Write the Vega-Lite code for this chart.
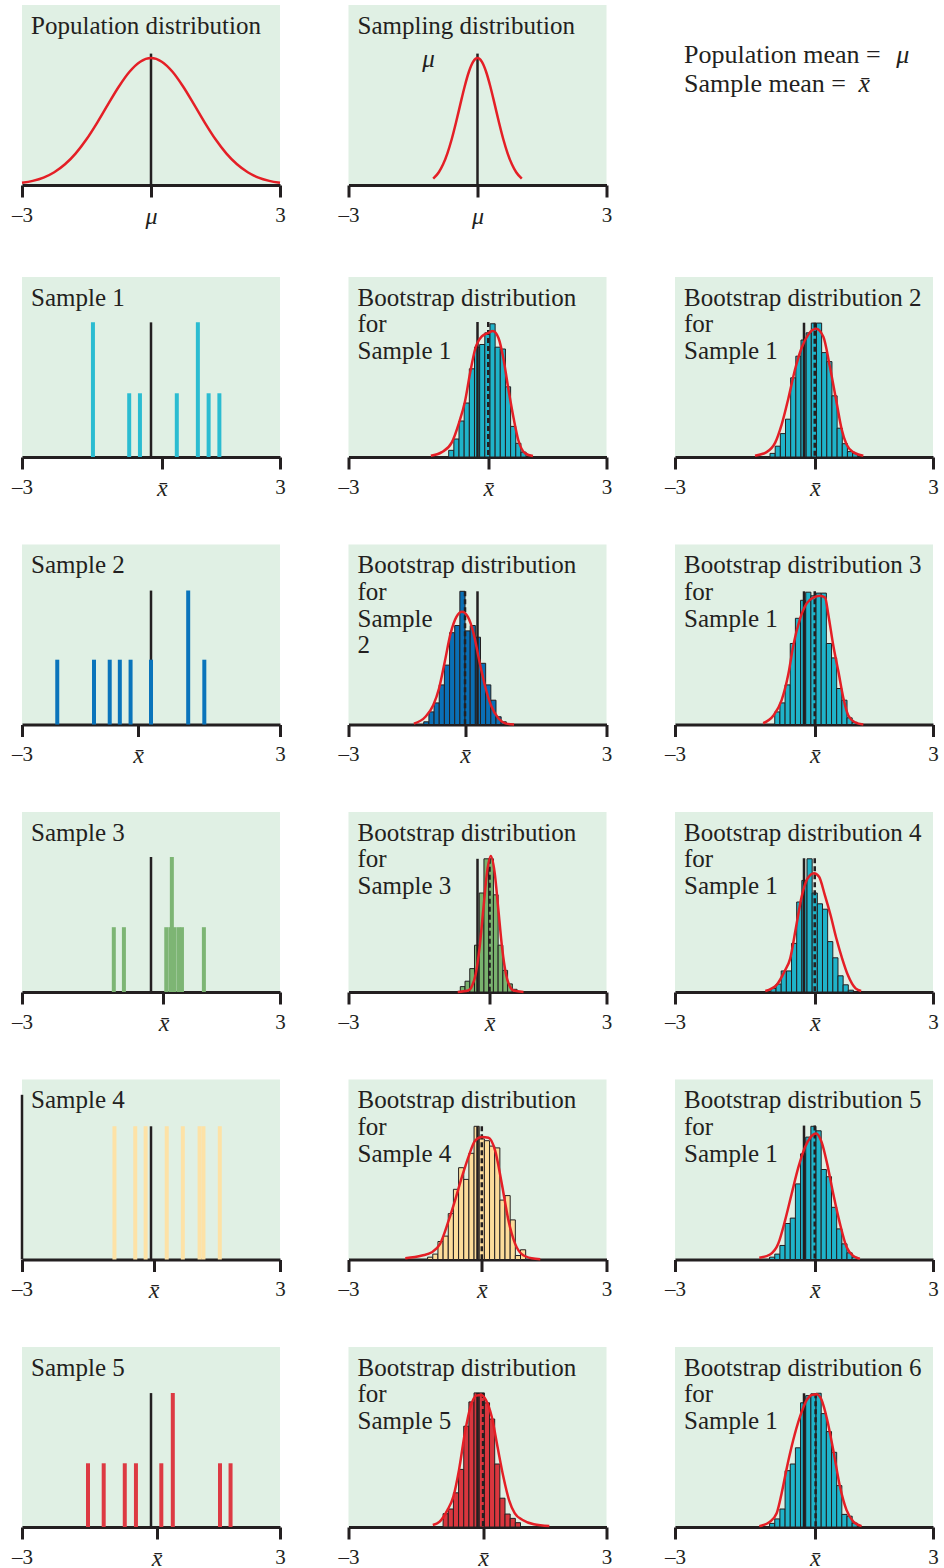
{
"$schema":"https://vega.github.io/schema/vega-lite/v6.json",
"background":"white",
"padding":{"left":11,"top":5,"right":0,"bottom":0},
"config":{
 "font":"Liberation Serif",
 "view":{"stroke":null},
 "text":{"font":"Liberation Serif","color":"#231f20","fontSize":25},
 "axisX":{"domainColor":"#231f20","domainWidth":3,"tickColor":"#231f20","tickWidth":3,"tickSize":12,"labelFont":"Liberation Serif","labelFontSize":21,"labelColor":"#231f20","labelPadding":7,"grid":false,"labelFlush":false,"labelOverlap":false,"labelBound":false,"zindex":1}
},
"spacing":49,
"vconcat":[
{"hconcat":[
 {"width":258,"height":180,"view":{"fill":"#e0f0e4","stroke":null},
  "encoding":{"x":{"field":"x","type":"quantitative","title":null,"scale":{"domain":[-3,3],"nice":false,"zero":false},"axis":{"values":[-3,0,3],"labelExpr":"datum.value == -3 ? '\u20133' : datum.value == 3 ? '3' : '\u03bc'","labelFontStyle":{"condition":{"test":"abs(datum.value) < 2.9","value":"italic"},"value":"normal"},"labelFontSize":{"condition":{"test":"abs(datum.value) < 2.9","value":24},"value":21}}},"y":{"field":"h","type":"quantitative","title":null,"stack":null,"scale":{"domain":[0,1]},"axis":null}},
  "layer":[
   {"data":{"values":[{"x":-2.79,"h":0.839,"t":"Population distribution"}]},"mark":{"type":"text","align":"left","baseline":"alphabetic"},"encoding":{"text":{"field":"t"}}},
   {"data":{"values":[{"x":0,"h":0.73}]},"mark":{"type":"rule","color":"#231f20","strokeWidth":2.5},"encoding":{"y2":{"datum":0}}},
   {"data":{"values":[{"x":-3,"h":0.012},{"x":-2.75,"h":0.023},{"x":-2.5,"h":0.041},{"x":-2.25,"h":0.071},{"x":-2,"h":0.115},{"x":-1.75,"h":0.176},{"x":-1.5,"h":0.254},{"x":-1.25,"h":0.347},{"x":-1,"h":0.448},{"x":-0.75,"h":0.546},{"x":-0.5,"h":0.629},{"x":-0.25,"h":0.685},{"x":0,"h":0.705},{"x":0.25,"h":0.685},{"x":0.5,"h":0.629},{"x":0.75,"h":0.546},{"x":1,"h":0.448},{"x":1.25,"h":0.347},{"x":1.5,"h":0.254},{"x":1.75,"h":0.176},{"x":2,"h":0.115},{"x":2.25,"h":0.071},{"x":2.5,"h":0.041},{"x":2.75,"h":0.023},{"x":3,"h":0.012}]},"mark":{"type":"line","color":"#e41f26","strokeWidth":2.5,"interpolate":"monotone"},"encoding":{}}
  ]},
 {"width":258,"height":180,"view":{"fill":"#e0f0e4","stroke":null},
  "encoding":{"x":{"field":"x","type":"quantitative","title":null,"scale":{"domain":[-3,3],"nice":false,"zero":false},"axis":{"values":[-3,0,3],"labelExpr":"datum.value == -3 ? '\u20133' : datum.value == 3 ? '3' : '\u03bc'","labelFontStyle":{"condition":{"test":"abs(datum.value) < 2.9","value":"italic"},"value":"normal"},"labelFontSize":{"condition":{"test":"abs(datum.value) < 2.9","value":24},"value":21}}},"y":{"field":"h","type":"quantitative","title":null,"stack":null,"scale":{"domain":[0,1]},"axis":null}},
  "layer":[
   {"data":{"values":[{"x":-2.79,"h":0.839,"t":"Sampling distribution"}]},"mark":{"type":"text","align":"left","baseline":"alphabetic"},"encoding":{"text":{"field":"t"}}},
   {"data":{"values":[{"x":0,"h":0.73}]},"mark":{"type":"rule","color":"#231f20","strokeWidth":2.5},"encoding":{"y2":{"datum":0}}},
   {"data":{"values":[{"x":-1.03,"h":0.035},{"x":-0.9,"h":0.071},{"x":-0.8,"h":0.115},{"x":-0.7,"h":0.176},{"x":-0.6,"h":0.254},{"x":-0.5,"h":0.347},{"x":-0.4,"h":0.448},{"x":-0.3,"h":0.546},{"x":-0.2,"h":0.629},{"x":-0.1,"h":0.685},{"x":0,"h":0.705},{"x":0.1,"h":0.685},{"x":0.2,"h":0.629},{"x":0.3,"h":0.546},{"x":0.4,"h":0.448},{"x":0.5,"h":0.347},{"x":0.6,"h":0.254},{"x":0.7,"h":0.176},{"x":0.8,"h":0.115},{"x":0.9,"h":0.071},{"x":1.03,"h":0.035}]},"mark":{"type":"line","color":"#e41f26","strokeWidth":2.5,"interpolate":"monotone"},"encoding":{}},
   {"data":{"values":[{"x":-1.14,"h":0.655,"t":"\u03bc"}]},"mark":{"type":"text","fontSize":25,"fontStyle":"italic","align":"center","baseline":"alphabetic"},"encoding":{"text":{"field":"t"}}}
  ]},
 {"width":258,"height":180,"view":{"stroke":null},
  "encoding":{"x":{"field":"x","type":"quantitative","title":null,"scale":{"domain":[-3,3],"nice":false,"zero":false},"axis":null},"y":{"field":"h","type":"quantitative","title":null,"scale":{"domain":[0,1]},"axis":null},"text":{"field":"t"}},
  "layer":[
   {"data":{"values":[{"x":-2.79,"h":0.678,"t":"Population mean ="},{"x":-2.79,"h":0.517,"t":"Sample mean ="}]},"mark":{"type":"text","fontSize":26,"align":"left","baseline":"alphabetic"}},
   {"data":{"values":[{"x":2.3,"h":0.678,"t":"\u03bc"},{"x":1.4,"h":0.517,"t":"x\u0304"}]},"mark":{"type":"text","fontSize":26,"fontStyle":"italic","align":"center","baseline":"alphabetic"}}
  ]}
],"spacing":68.5,"bounds":"flush"},
{"vconcat":[
{"hconcat":[
 {"width":258,"height":180,"view":{"fill":"#e0f0e4","stroke":null},
  "encoding":{"x":{"field":"x","type":"quantitative","title":null,"scale":{"domain":[-3,3],"nice":false,"zero":false},"axis":{"values":[-3,0.25,3],"labelExpr":"datum.value == -3 ? '\u20133' : datum.value == 3 ? '3' : 'x\u0304'","labelFontStyle":{"condition":{"test":"abs(datum.value) < 2.9","value":"italic"},"value":"normal"},"labelFontSize":{"condition":{"test":"abs(datum.value) < 2.9","value":24},"value":21}}},"y":{"field":"h","type":"quantitative","title":null,"stack":null,"scale":{"domain":[0,1]},"axis":null}},
  "layer":[
   {"data":{"values":[{"x":-2.79,"h":0.839,"t":"Sample 1"}]},"mark":{"type":"text","align":"left","baseline":"alphabetic"},"encoding":{"text":{"field":"t"}}},
   {"data":{"values":[{"x":0,"h":0.748}]},"mark":{"type":"rule","color":"#231f20","strokeWidth":2.5},"encoding":{"y2":{"datum":0}}},
   {"data":{"values":[{"x":-1.35,"h":0.748},{"x":-0.507,"h":0.354},{"x":-0.257,"h":0.354},{"x":0.6,"h":0.354},{"x":1.09,"h":0.748},{"x":1.34,"h":0.354},{"x":1.59,"h":0.354}]},"mark":{"type":"rule","color":"#2bbcd1","strokeWidth":4},"encoding":{"y2":{"datum":0}}}
  ]},
 {"width":258,"height":180,"view":{"fill":"#e0f0e4","stroke":null},
  "encoding":{"x":{"field":"x","type":"quantitative","title":null,"scale":{"domain":[-3,3],"nice":false,"zero":false},"axis":{"values":[-3,0.25,3],"labelExpr":"datum.value == -3 ? '\u20133' : datum.value == 3 ? '3' : 'x\u0304'","labelFontStyle":{"condition":{"test":"abs(datum.value) < 2.9","value":"italic"},"value":"normal"},"labelFontSize":{"condition":{"test":"abs(datum.value) < 2.9","value":24},"value":21}}},"y":{"field":"h","type":"quantitative","title":null,"stack":null,"scale":{"domain":[0,1]},"axis":null}},
  "layer":[
   {"data":{"values":[{"x":-2.79,"h":0.839,"t":"Bootstrap distribution"},{"x":-2.79,"h":0.692,"t":"for"},{"x":-2.79,"h":0.544,"t":"Sample 1"}]},"mark":{"type":"text","align":"left","baseline":"alphabetic"},"encoding":{"text":{"field":"t"}}},
   {"data":{"values":[{"x":-0.67,"x2f":-0.55,"h":0.037},{"x":-0.55,"x2f":-0.43,"h":0.1},{"x":-0.43,"x2f":-0.31,"h":0.2},{"x":-0.31,"x2f":-0.19,"h":0.3},{"x":-0.19,"x2f":-0.07,"h":0.49},{"x":-0.07,"x2f":0.05,"h":0.61},{"x":0.05,"x2f":0.17,"h":0.625},{"x":0.17,"x2f":0.29,"h":0.69},{"x":0.29,"x2f":0.41,"h":0.74},{"x":0.41,"x2f":0.53,"h":0.61},{"x":0.53,"x2f":0.65,"h":0.6},{"x":0.65,"x2f":0.77,"h":0.39},{"x":0.77,"x2f":0.89,"h":0.17},{"x":0.89,"x2f":1.01,"h":0.076},{"x":1.01,"x2f":1.13,"h":0.027}]},"mark":{"type":"bar","fill":"#1fb3c9","stroke":"#231f20","strokeWidth":1},"encoding":{"x2":{"field":"x2f"},"y2":{"datum":0}}},
   {"data":{"values":[{"x":0,"h":0.75}]},"mark":{"type":"rule","color":"#231f20","strokeWidth":2.5},"encoding":{"y2":{"datum":0}}},
   {"data":{"values":[{"x":0.25,"h":0.75}]},"mark":{"type":"rule","color":"#231f20","strokeWidth":2.5,"strokeDash":[5,3]},"encoding":{"y2":{"datum":0}}},
   {"data":{"values":[{"x":-1.085,"h":0.007},{"x":-0.83,"h":0.027},{"x":-0.6,"h":0.08},{"x":-0.43,"h":0.19},{"x":-0.29,"h":0.31},{"x":-0.17,"h":0.47},{"x":-0.054,"h":0.6},{"x":0.1,"h":0.67},{"x":0.256,"h":0.69},{"x":0.357,"h":0.7},{"x":0.49,"h":0.66},{"x":0.6,"h":0.55},{"x":0.72,"h":0.375},{"x":0.84,"h":0.215},{"x":0.95,"h":0.093},{"x":1.11,"h":0.02},{"x":1.29,"h":0.005}]},"mark":{"type":"line","color":"#e41f26","strokeWidth":2.5,"interpolate":"monotone"},"encoding":{}}
  ]},
 {"width":258,"height":180,"view":{"fill":"#e0f0e4","stroke":null},
  "encoding":{"x":{"field":"x","type":"quantitative","title":null,"scale":{"domain":[-3,3],"nice":false,"zero":false},"axis":{"values":[-3,0.25,3],"labelExpr":"datum.value == -3 ? '\u20133' : datum.value == 3 ? '3' : 'x\u0304'","labelFontStyle":{"condition":{"test":"abs(datum.value) < 2.9","value":"italic"},"value":"normal"},"labelFontSize":{"condition":{"test":"abs(datum.value) < 2.9","value":24},"value":21}}},"y":{"field":"h","type":"quantitative","title":null,"stack":null,"scale":{"domain":[0,1]},"axis":null}},
  "layer":[
   {"data":{"values":[{"x":-2.79,"h":0.839,"t":"Bootstrap distribution 2"},{"x":-2.79,"h":0.692,"t":"for"},{"x":-2.79,"h":0.544,"t":"Sample 1"}]},"mark":{"type":"text","align":"left","baseline":"alphabetic"},"encoding":{"text":{"field":"t"}}},
   {"data":{"values":[{"x":-0.79,"x2f":-0.67,"h":0.02},{"x":-0.67,"x2f":-0.55,"h":0.06},{"x":-0.55,"x2f":-0.43,"h":0.13},{"x":-0.43,"x2f":-0.31,"h":0.21},{"x":-0.31,"x2f":-0.19,"h":0.44},{"x":-0.19,"x2f":-0.07,"h":0.56},{"x":-0.07,"x2f":0.05,"h":0.65},{"x":0.05,"x2f":0.17,"h":0.69},{"x":0.17,"x2f":0.29,"h":0.744},{"x":0.29,"x2f":0.41,"h":0.744},{"x":0.41,"x2f":0.53,"h":0.58},{"x":0.53,"x2f":0.65,"h":0.53},{"x":0.65,"x2f":0.77,"h":0.34},{"x":0.77,"x2f":0.89,"h":0.16},{"x":0.89,"x2f":1.01,"h":0.074},{"x":1.01,"x2f":1.13,"h":0.03},{"x":1.13,"x2f":1.25,"h":0.02}]},"mark":{"type":"bar","fill":"#1fb3c9","stroke":"#231f20","strokeWidth":1},"encoding":{"x2":{"field":"x2f"},"y2":{"datum":0}}},
   {"data":{"values":[{"x":0,"h":0.746}]},"mark":{"type":"rule","color":"#231f20","strokeWidth":2.5},"encoding":{"y2":{"datum":0}}},
   {"data":{"values":[{"x":0.25,"h":0.746}]},"mark":{"type":"rule","color":"#231f20","strokeWidth":2.5,"strokeDash":[5,3]},"encoding":{"y2":{"datum":0}}},
   {"data":{"values":[{"x":-1.14,"h":0.007},{"x":-0.87,"h":0.027},{"x":-0.67,"h":0.08},{"x":-0.52,"h":0.18},{"x":-0.364,"h":0.325},{"x":-0.21,"h":0.485},{"x":-0.054,"h":0.607},{"x":0.1,"h":0.68},{"x":0.28,"h":0.712},{"x":0.45,"h":0.668},{"x":0.605,"h":0.497},{"x":0.76,"h":0.3},{"x":0.876,"h":0.154},{"x":0.99,"h":0.069},{"x":1.147,"h":0.027},{"x":1.38,"h":0.007}]},"mark":{"type":"line","color":"#e41f26","strokeWidth":2.5,"interpolate":"monotone"},"encoding":{}}
  ]}
],"spacing":68.5,"bounds":"flush"},
{"hconcat":[
 {"width":258,"height":180,"view":{"fill":"#e0f0e4","stroke":null},
  "encoding":{"x":{"field":"x","type":"quantitative","title":null,"scale":{"domain":[-3,3],"nice":false,"zero":false},"axis":{"values":[-3,-0.3,3],"labelExpr":"datum.value == -3 ? '\u20133' : datum.value == 3 ? '3' : 'x\u0304'","labelFontStyle":{"condition":{"test":"abs(datum.value) < 2.9","value":"italic"},"value":"normal"},"labelFontSize":{"condition":{"test":"abs(datum.value) < 2.9","value":24},"value":21}}},"y":{"field":"h","type":"quantitative","title":null,"stack":null,"scale":{"domain":[0,1]},"axis":null}},
  "layer":[
   {"data":{"values":[{"x":-2.79,"h":0.839,"t":"Sample 2"}]},"mark":{"type":"text","align":"left","baseline":"alphabetic"},"encoding":{"text":{"field":"t"}}},
   {"data":{"values":[{"x":0,"h":0.744}]},"mark":{"type":"rule","color":"#231f20","strokeWidth":2.5},"encoding":{"y2":{"datum":0}}},
   {"data":{"values":[{"x":-2.18,"h":0.36},{"x":-1.325,"h":0.36},{"x":-0.96,"h":0.36},{"x":-0.725,"h":0.36},{"x":-0.475,"h":0.36},{"x":0,"h":0.36},{"x":0.865,"h":0.744},{"x":1.24,"h":0.36}]},"mark":{"type":"rule","color":"#0a74bb","strokeWidth":4},"encoding":{"y2":{"datum":0}}}
  ]},
 {"width":258,"height":180,"view":{"fill":"#e0f0e4","stroke":null},
  "encoding":{"x":{"field":"x","type":"quantitative","title":null,"scale":{"domain":[-3,3],"nice":false,"zero":false},"axis":{"values":[-3,-0.29,3],"labelExpr":"datum.value == -3 ? '\u20133' : datum.value == 3 ? '3' : 'x\u0304'","labelFontStyle":{"condition":{"test":"abs(datum.value) < 2.9","value":"italic"},"value":"normal"},"labelFontSize":{"condition":{"test":"abs(datum.value) < 2.9","value":24},"value":21}}},"y":{"field":"h","type":"quantitative","title":null,"stack":null,"scale":{"domain":[0,1]},"axis":null}},
  "layer":[
   {"data":{"values":[{"x":-2.79,"h":0.839,"t":"Bootstrap distribution"},{"x":-2.79,"h":0.692,"t":"for"},{"x":-2.79,"h":0.544,"t":"Sample"},{"x":-2.79,"h":0.397,"t":"2"}]},"mark":{"type":"text","align":"left","baseline":"alphabetic"},"encoding":{"text":{"field":"t"}}},
   {"data":{"values":[{"x":-1.25,"x2f":-1.13,"h":0.015},{"x":-1.13,"x2f":-1.01,"h":0.07},{"x":-1.01,"x2f":-0.89,"h":0.12},{"x":-0.89,"x2f":-0.77,"h":0.22},{"x":-0.77,"x2f":-0.65,"h":0.33},{"x":-0.65,"x2f":-0.53,"h":0.51},{"x":-0.53,"x2f":-0.41,"h":0.55},{"x":-0.41,"x2f":-0.29,"h":0.74},{"x":-0.29,"x2f":-0.17,"h":0.52},{"x":-0.17,"x2f":-0.05,"h":0.55},{"x":-0.05,"x2f":0.07,"h":0.485},{"x":0.07,"x2f":0.19,"h":0.34},{"x":0.19,"x2f":0.31,"h":0.22},{"x":0.31,"x2f":0.43,"h":0.135},{"x":0.43,"x2f":0.55,"h":0.043},{"x":0.55,"x2f":0.67,"h":0.015}]},"mark":{"type":"bar","fill":"#0a6fb5","stroke":"#231f20","strokeWidth":1},"encoding":{"x2":{"field":"x2f"},"y2":{"datum":0}}},
   {"data":{"values":[{"x":0,"h":0.74}]},"mark":{"type":"rule","color":"#231f20","strokeWidth":2.5},"encoding":{"y2":{"datum":0}}},
   {"data":{"values":[{"x":-0.29,"h":0.74}]},"mark":{"type":"rule","color":"#231f20","strokeWidth":2.5,"strokeDash":[5,3]},"encoding":{"y2":{"datum":0}}},
   {"data":{"values":[{"x":-1.48,"h":0.005},{"x":-1.21,"h":0.043},{"x":-1.03,"h":0.107},{"x":-0.895,"h":0.2},{"x":-0.76,"h":0.35},{"x":-0.627,"h":0.505},{"x":-0.49,"h":0.598},{"x":-0.36,"h":0.626},{"x":-0.224,"h":0.598},{"x":-0.09,"h":0.505},{"x":0.045,"h":0.35},{"x":0.18,"h":0.21},{"x":0.313,"h":0.107},{"x":0.49,"h":0.033},{"x":0.67,"h":0.005},{"x":0.85,"h":0.0}]},"mark":{"type":"line","color":"#e41f26","strokeWidth":2.5,"interpolate":"monotone"},"encoding":{}}
  ]},
 {"width":258,"height":180,"view":{"fill":"#e0f0e4","stroke":null},
  "encoding":{"x":{"field":"x","type":"quantitative","title":null,"scale":{"domain":[-3,3],"nice":false,"zero":false},"axis":{"values":[-3,0.25,3],"labelExpr":"datum.value == -3 ? '\u20133' : datum.value == 3 ? '3' : 'x\u0304'","labelFontStyle":{"condition":{"test":"abs(datum.value) < 2.9","value":"italic"},"value":"normal"},"labelFontSize":{"condition":{"test":"abs(datum.value) < 2.9","value":24},"value":21}}},"y":{"field":"h","type":"quantitative","title":null,"stack":null,"scale":{"domain":[0,1]},"axis":null}},
  "layer":[
   {"data":{"values":[{"x":-2.79,"h":0.839,"t":"Bootstrap distribution 3"},{"x":-2.79,"h":0.692,"t":"for"},{"x":-2.79,"h":0.544,"t":"Sample 1"}]},"mark":{"type":"text","align":"left","baseline":"alphabetic"},"encoding":{"text":{"field":"t"}}},
   {"data":{"values":[{"x":-0.68,"x2f":-0.56,"h":0.07},{"x":-0.56,"x2f":-0.44,"h":0.12},{"x":-0.44,"x2f":-0.32,"h":0.22},{"x":-0.32,"x2f":-0.2,"h":0.45},{"x":-0.2,"x2f":-0.08,"h":0.59},{"x":-0.08,"x2f":0.04,"h":0.69},{"x":0.04,"x2f":0.16,"h":0.735},{"x":0.16,"x2f":0.28,"h":0.715},{"x":0.28,"x2f":0.4,"h":0.73},{"x":0.4,"x2f":0.52,"h":0.73},{"x":0.52,"x2f":0.64,"h":0.45},{"x":0.64,"x2f":0.76,"h":0.37},{"x":0.76,"x2f":0.88,"h":0.2},{"x":0.88,"x2f":1.0,"h":0.135},{"x":1.0,"x2f":1.12,"h":0.037},{"x":1.12,"x2f":1.24,"h":0.012}]},"mark":{"type":"bar","fill":"#1fb3c9","stroke":"#231f20","strokeWidth":1},"encoding":{"x2":{"field":"x2f"},"y2":{"datum":0}}},
   {"data":{"values":[{"x":0,"h":0.74}]},"mark":{"type":"rule","color":"#231f20","strokeWidth":2.5},"encoding":{"y2":{"datum":0}}},
   {"data":{"values":[{"x":0.25,"h":0.74}]},"mark":{"type":"rule","color":"#231f20","strokeWidth":2.5,"strokeDash":[5,3]},"encoding":{"y2":{"datum":0}}},
   {"data":{"values":[{"x":-0.95,"h":0.007},{"x":-0.71,"h":0.05},{"x":-0.52,"h":0.135},{"x":-0.364,"h":0.28},{"x":-0.248,"h":0.44},{"x":-0.093,"h":0.587},{"x":0.062,"h":0.673},{"x":0.217,"h":0.705},{"x":0.37,"h":0.715},{"x":0.49,"h":0.705},{"x":0.566,"h":0.61},{"x":0.68,"h":0.44},{"x":0.8,"h":0.294},{"x":0.915,"h":0.147},{"x":1.03,"h":0.05},{"x":1.186,"h":0.012},{"x":1.38,"h":0.0}]},"mark":{"type":"line","color":"#e41f26","strokeWidth":2.5,"interpolate":"monotone"},"encoding":{}}
  ]}
],"spacing":68.5,"bounds":"flush"},
{"hconcat":[
 {"width":258,"height":180,"view":{"fill":"#e0f0e4","stroke":null},
  "encoding":{"x":{"field":"x","type":"quantitative","title":null,"scale":{"domain":[-3,3],"nice":false,"zero":false},"axis":{"values":[-3,0.29,3],"labelExpr":"datum.value == -3 ? '\u20133' : datum.value == 3 ? '3' : 'x\u0304'","labelFontStyle":{"condition":{"test":"abs(datum.value) < 2.9","value":"italic"},"value":"normal"},"labelFontSize":{"condition":{"test":"abs(datum.value) < 2.9","value":24},"value":21}}},"y":{"field":"h","type":"quantitative","title":null,"stack":null,"scale":{"domain":[0,1]},"axis":null}},
  "layer":[
   {"data":{"values":[{"x":-2.79,"h":0.839,"t":"Sample 3"}]},"mark":{"type":"text","align":"left","baseline":"alphabetic"},"encoding":{"text":{"field":"t"}}},
   {"data":{"values":[{"x":0,"h":0.75}]},"mark":{"type":"rule","color":"#231f20","strokeWidth":2.5},"encoding":{"y2":{"datum":0}}},
   {"data":{"values":[{"x":-0.865,"h":0.36},{"x":-0.63,"h":0.36},{"x":0.355,"h":0.36},{"x":0.45,"h":0.36},{"x":0.545,"h":0.36},{"x":0.64,"h":0.36},{"x":0.72,"h":0.36},{"x":0.485,"h":0.75},{"x":1.23,"h":0.36}]},"mark":{"type":"rule","color":"#7db574","strokeWidth":4},"encoding":{"y2":{"datum":0}}}
  ]},
 {"width":258,"height":180,"view":{"fill":"#e0f0e4","stroke":null},
  "encoding":{"x":{"field":"x","type":"quantitative","title":null,"scale":{"domain":[-3,3],"nice":false,"zero":false},"axis":{"values":[-3,0.28,3],"labelExpr":"datum.value == -3 ? '\u20133' : datum.value == 3 ? '3' : 'x\u0304'","labelFontStyle":{"condition":{"test":"abs(datum.value) < 2.9","value":"italic"},"value":"normal"},"labelFontSize":{"condition":{"test":"abs(datum.value) < 2.9","value":24},"value":21}}},"y":{"field":"h","type":"quantitative","title":null,"stack":null,"scale":{"domain":[0,1]},"axis":null}},
  "layer":[
   {"data":{"values":[{"x":-2.79,"h":0.839,"t":"Bootstrap distribution"},{"x":-2.79,"h":0.692,"t":"for"},{"x":-2.79,"h":0.544,"t":"Sample 3"}]},"mark":{"type":"text","align":"left","baseline":"alphabetic"},"encoding":{"text":{"field":"t"}}},
   {"data":{"values":[{"x":-0.4,"x2f":-0.29,"h":0.03},{"x":-0.29,"x2f":-0.18,"h":0.06},{"x":-0.18,"x2f":-0.07,"h":0.13},{"x":-0.07,"x2f":0.04,"h":0.26},{"x":0.04,"x2f":0.15,"h":0.55},{"x":0.15,"x2f":0.26,"h":0.74},{"x":0.26,"x2f":0.37,"h":0.74},{"x":0.37,"x2f":0.48,"h":0.54},{"x":0.48,"x2f":0.59,"h":0.26},{"x":0.59,"x2f":0.7,"h":0.12},{"x":0.7,"x2f":0.81,"h":0.045},{"x":0.81,"x2f":0.92,"h":0.015}]},"mark":{"type":"bar","fill":"#79b36e","stroke":"#231f20","strokeWidth":1},"encoding":{"x2":{"field":"x2f"},"y2":{"datum":0}}},
   {"data":{"values":[{"x":0,"h":0.74}]},"mark":{"type":"rule","color":"#231f20","strokeWidth":2.5},"encoding":{"y2":{"datum":0}}},
   {"data":{"values":[{"x":0.28,"h":0.74}]},"mark":{"type":"rule","color":"#231f20","strokeWidth":2.5,"strokeDash":[5,3]},"encoding":{"y2":{"datum":0}}},
   {"data":{"values":[{"x":-0.46,"h":0.0},{"x":-0.215,"h":0.008},{"x":-0.1275,"h":0.033},{"x":-0.04,"h":0.102},{"x":0.0475,"h":0.245},{"x":0.135,"h":0.458},{"x":0.2225,"h":0.666},{"x":0.31,"h":0.755},{"x":0.3975,"h":0.666},{"x":0.485,"h":0.458},{"x":0.5725,"h":0.245},{"x":0.66,"h":0.102},{"x":0.7475,"h":0.033},{"x":0.835,"h":0.008},{"x":1.07,"h":0.0}]},"mark":{"type":"line","color":"#e41f26","strokeWidth":2.5,"interpolate":"monotone"},"encoding":{}}
  ]},
 {"width":258,"height":180,"view":{"fill":"#e0f0e4","stroke":null},
  "encoding":{"x":{"field":"x","type":"quantitative","title":null,"scale":{"domain":[-3,3],"nice":false,"zero":false},"axis":{"values":[-3,0.25,3],"labelExpr":"datum.value == -3 ? '\u20133' : datum.value == 3 ? '3' : 'x\u0304'","labelFontStyle":{"condition":{"test":"abs(datum.value) < 2.9","value":"italic"},"value":"normal"},"labelFontSize":{"condition":{"test":"abs(datum.value) < 2.9","value":24},"value":21}}},"y":{"field":"h","type":"quantitative","title":null,"stack":null,"scale":{"domain":[0,1]},"axis":null}},
  "layer":[
   {"data":{"values":[{"x":-2.79,"h":0.839,"t":"Bootstrap distribution 4"},{"x":-2.79,"h":0.692,"t":"for"},{"x":-2.79,"h":0.544,"t":"Sample 1"}]},"mark":{"type":"text","align":"left","baseline":"alphabetic"},"encoding":{"text":{"field":"t"}}},
   {"data":{"values":[{"x":-0.77,"x2f":-0.65,"h":0.02},{"x":-0.65,"x2f":-0.53,"h":0.044},{"x":-0.53,"x2f":-0.41,"h":0.117},{"x":-0.41,"x2f":-0.29,"h":0.117},{"x":-0.29,"x2f":-0.17,"h":0.27},{"x":-0.17,"x2f":-0.05,"h":0.5},{"x":-0.05,"x2f":0.07,"h":0.62},{"x":0.07,"x2f":0.19,"h":0.74},{"x":0.19,"x2f":0.31,"h":0.55},{"x":0.31,"x2f":0.43,"h":0.49},{"x":0.43,"x2f":0.55,"h":0.46},{"x":0.55,"x2f":0.67,"h":0.28},{"x":0.67,"x2f":0.79,"h":0.19},{"x":0.79,"x2f":0.91,"h":0.09},{"x":0.91,"x2f":1.03,"h":0.04},{"x":1.03,"x2f":1.15,"h":0.01}]},"mark":{"type":"bar","fill":"#1fb3c9","stroke":"#231f20","strokeWidth":1},"encoding":{"x2":{"field":"x2f"},"y2":{"datum":0}}},
   {"data":{"values":[{"x":0,"h":0.743}]},"mark":{"type":"rule","color":"#231f20","strokeWidth":2.5},"encoding":{"y2":{"datum":0}}},
   {"data":{"values":[{"x":0.25,"h":0.743}]},"mark":{"type":"rule","color":"#231f20","strokeWidth":2.5,"strokeDash":[5,3]},"encoding":{"y2":{"datum":0}}},
   {"data":{"values":[{"x":-0.9,"h":0.006},{"x":-0.635,"h":0.04},{"x":-0.456,"h":0.113},{"x":-0.32,"h":0.187},{"x":-0.19,"h":0.354},{"x":-0.054,"h":0.53},{"x":0.08,"h":0.63},{"x":0.233,"h":0.66},{"x":0.35,"h":0.64},{"x":0.483,"h":0.54},{"x":0.617,"h":0.428},{"x":0.75,"h":0.3},{"x":0.886,"h":0.187},{"x":1.02,"h":0.094},{"x":1.2,"h":0.02},{"x":1.33,"h":0.006}]},"mark":{"type":"line","color":"#e41f26","strokeWidth":2.5,"interpolate":"monotone"},"encoding":{}}
  ]}
],"spacing":68.5,"bounds":"flush"},
{"hconcat":[
 {"width":258,"height":180,"view":{"fill":"#e0f0e4","stroke":null},
  "encoding":{"x":{"field":"x","type":"quantitative","title":null,"scale":{"domain":[-3,3],"nice":false,"zero":false},"axis":{"values":[-3,0.06,3],"labelExpr":"datum.value == -3 ? '\u20133' : datum.value == 3 ? '3' : 'x\u0304'","labelFontStyle":{"condition":{"test":"abs(datum.value) < 2.9","value":"italic"},"value":"normal"},"labelFontSize":{"condition":{"test":"abs(datum.value) < 2.9","value":24},"value":21}}},"y":{"field":"h","type":"quantitative","title":null,"stack":null,"scale":{"domain":[0,1]},"axis":null}},
  "layer":[
   {"data":{"values":[{"x":-2.79,"h":0.839,"t":"Sample 4"}]},"mark":{"type":"text","align":"left","baseline":"alphabetic"},"encoding":{"text":{"field":"t"}}},
   {"data":{"values":[{"x":0,"h":0.74},{"x":-3,"h":0.915}]},"mark":{"type":"rule","color":"#231f20","strokeWidth":2.5},"encoding":{"y2":{"datum":0}}},
   {"data":{"values":[{"x":-0.85,"h":0.74},{"x":-0.366,"h":0.74},{"x":-0.125,"h":0.74},{"x":0.366,"h":0.74},{"x":0.74,"h":0.74},{"x":1.13,"h":0.74},{"x":1.22,"h":0.74},{"x":1.6,"h":0.74}]},"mark":{"type":"rule","color":"#fde2a6","strokeWidth":4},"encoding":{"y2":{"datum":0}}}
  ]},
 {"width":258,"height":180,"view":{"fill":"#e0f0e4","stroke":null},
  "encoding":{"x":{"field":"x","type":"quantitative","title":null,"scale":{"domain":[-3,3],"nice":false,"zero":false},"axis":{"values":[-3,0.1,3],"labelExpr":"datum.value == -3 ? '\u20133' : datum.value == 3 ? '3' : 'x\u0304'","labelFontStyle":{"condition":{"test":"abs(datum.value) < 2.9","value":"italic"},"value":"normal"},"labelFontSize":{"condition":{"test":"abs(datum.value) < 2.9","value":24},"value":21}}},"y":{"field":"h","type":"quantitative","title":null,"stack":null,"scale":{"domain":[0,1]},"axis":null}},
  "layer":[
   {"data":{"values":[{"x":-2.79,"h":0.839,"t":"Bootstrap distribution"},{"x":-2.79,"h":0.692,"t":"for"},{"x":-2.79,"h":0.544,"t":"Sample 4"}]},"mark":{"type":"text","align":"left","baseline":"alphabetic"},"encoding":{"text":{"field":"t"}}},
   {"data":{"values":[{"x":-1.16,"x2f":-1.04,"h":0.013},{"x":-1.04,"x2f":-0.92,"h":0.03},{"x":-0.92,"x2f":-0.8,"h":0.1},{"x":-0.8,"x2f":-0.68,"h":0.13},{"x":-0.68,"x2f":-0.56,"h":0.255},{"x":-0.56,"x2f":-0.44,"h":0.39},{"x":-0.44,"x2f":-0.32,"h":0.51},{"x":-0.32,"x2f":-0.2,"h":0.445},{"x":-0.2,"x2f":-0.08,"h":0.59},{"x":-0.08,"x2f":0.04,"h":0.74},{"x":0.04,"x2f":0.16,"h":0.67},{"x":0.16,"x2f":0.28,"h":0.66},{"x":0.28,"x2f":0.4,"h":0.63},{"x":0.4,"x2f":0.52,"h":0.62},{"x":0.52,"x2f":0.64,"h":0.33},{"x":0.64,"x2f":0.76,"h":0.355},{"x":0.76,"x2f":0.88,"h":0.22},{"x":0.88,"x2f":1.0,"h":0.022},{"x":1.0,"x2f":1.12,"h":0.054}]},"mark":{"type":"bar","fill":"#fcdc9a","stroke":"#231f20","strokeWidth":1},"encoding":{"x2":{"field":"x2f"},"y2":{"datum":0}}},
   {"data":{"values":[{"x":0,"h":0.74}]},"mark":{"type":"rule","color":"#231f20","strokeWidth":2.5},"encoding":{"y2":{"datum":0}}},
   {"data":{"values":[{"x":0.1,"h":0.74}]},"mark":{"type":"rule","color":"#231f20","strokeWidth":2.5,"strokeDash":[5,3]},"encoding":{"y2":{"datum":0}}},
   {"data":{"values":[{"x":-1.68,"h":0.007},{"x":-1.29,"h":0.022},{"x":-1.06,"h":0.04},{"x":-0.87,"h":0.087},{"x":-0.67,"h":0.217},{"x":-0.52,"h":0.33},{"x":-0.364,"h":0.457},{"x":-0.21,"h":0.57},{"x":-0.054,"h":0.66},{"x":0.1,"h":0.68},{"x":0.256,"h":0.676},{"x":0.41,"h":0.605},{"x":0.566,"h":0.42},{"x":0.72,"h":0.217},{"x":0.876,"h":0.087},{"x":1.03,"h":0.03},{"x":1.26,"h":0.007},{"x":1.46,"h":0.002}]},"mark":{"type":"line","color":"#e41f26","strokeWidth":2.5,"interpolate":"monotone"},"encoding":{}}
  ]},
 {"width":258,"height":180,"view":{"fill":"#e0f0e4","stroke":null},
  "encoding":{"x":{"field":"x","type":"quantitative","title":null,"scale":{"domain":[-3,3],"nice":false,"zero":false},"axis":{"values":[-3,0.25,3],"labelExpr":"datum.value == -3 ? '\u20133' : datum.value == 3 ? '3' : 'x\u0304'","labelFontStyle":{"condition":{"test":"abs(datum.value) < 2.9","value":"italic"},"value":"normal"},"labelFontSize":{"condition":{"test":"abs(datum.value) < 2.9","value":24},"value":21}}},"y":{"field":"h","type":"quantitative","title":null,"stack":null,"scale":{"domain":[0,1]},"axis":null}},
  "layer":[
   {"data":{"values":[{"x":-2.79,"h":0.839,"t":"Bootstrap distribution 5"},{"x":-2.79,"h":0.692,"t":"for"},{"x":-2.79,"h":0.544,"t":"Sample 1"}]},"mark":{"type":"text","align":"left","baseline":"alphabetic"},"encoding":{"text":{"field":"t"}}},
   {"data":{"values":[{"x":-0.8,"x2f":-0.68,"h":0.013},{"x":-0.68,"x2f":-0.56,"h":0.03},{"x":-0.56,"x2f":-0.44,"h":0.078},{"x":-0.44,"x2f":-0.32,"h":0.2},{"x":-0.32,"x2f":-0.2,"h":0.23},{"x":-0.2,"x2f":-0.08,"h":0.42},{"x":-0.08,"x2f":0.04,"h":0.587},{"x":0.04,"x2f":0.16,"h":0.68},{"x":0.16,"x2f":0.28,"h":0.74},{"x":0.28,"x2f":0.4,"h":0.715},{"x":0.4,"x2f":0.52,"h":0.5},{"x":0.52,"x2f":0.64,"h":0.46},{"x":0.64,"x2f":0.76,"h":0.29},{"x":0.76,"x2f":0.88,"h":0.17},{"x":0.88,"x2f":1.0,"h":0.087},{"x":1.0,"x2f":1.12,"h":0.037},{"x":1.12,"x2f":1.24,"h":0.013}]},"mark":{"type":"bar","fill":"#1fb3c9","stroke":"#231f20","strokeWidth":1},"encoding":{"x2":{"field":"x2f"},"y2":{"datum":0}}},
   {"data":{"values":[{"x":0,"h":0.744}]},"mark":{"type":"rule","color":"#231f20","strokeWidth":2.5},"encoding":{"y2":{"datum":0}}},
   {"data":{"values":[{"x":0.25,"h":0.744}]},"mark":{"type":"rule","color":"#231f20","strokeWidth":2.5,"strokeDash":[5,3]},"encoding":{"y2":{"datum":0}}},
   {"data":{"values":[{"x":-1.04,"h":0.01},{"x":-0.79,"h":0.028},{"x":-0.6,"h":0.087},{"x":-0.44,"h":0.217},{"x":-0.287,"h":0.365},{"x":-0.13,"h":0.513},{"x":0.023,"h":0.624},{"x":0.155,"h":0.68},{"x":0.28,"h":0.7},{"x":0.41,"h":0.652},{"x":0.54,"h":0.53},{"x":0.68,"h":0.365},{"x":0.837,"h":0.198},{"x":0.99,"h":0.069},{"x":1.147,"h":0.019},{"x":1.3,"h":0.004}]},"mark":{"type":"line","color":"#e41f26","strokeWidth":2.5,"interpolate":"monotone"},"encoding":{}}
  ]}
],"spacing":68.5,"bounds":"flush"},
{"hconcat":[
 {"width":258,"height":180,"view":{"fill":"#e0f0e4","stroke":null},
  "encoding":{"x":{"field":"x","type":"quantitative","title":null,"scale":{"domain":[-3,3],"nice":false,"zero":false},"axis":{"values":[-3,0.13,3],"labelExpr":"datum.value == -3 ? '\u20133' : datum.value == 3 ? '3' : 'x\u0304'","labelFontStyle":{"condition":{"test":"abs(datum.value) < 2.9","value":"italic"},"value":"normal"},"labelFontSize":{"condition":{"test":"abs(datum.value) < 2.9","value":24},"value":21}}},"y":{"field":"h","type":"quantitative","title":null,"stack":null,"scale":{"domain":[0,1]},"axis":null}},
  "layer":[
   {"data":{"values":[{"x":-2.79,"h":0.839,"t":"Sample 5"}]},"mark":{"type":"text","align":"left","baseline":"alphabetic"},"encoding":{"text":{"field":"t"}}},
   {"data":{"values":[{"x":0,"h":0.744}]},"mark":{"type":"rule","color":"#231f20","strokeWidth":2.5},"encoding":{"y2":{"datum":0}}},
   {"data":{"values":[{"x":-1.465,"h":0.354},{"x":-1.1,"h":0.354},{"x":-0.61,"h":0.354},{"x":-0.35,"h":0.354},{"x":0.24,"h":0.354},{"x":0.507,"h":0.744},{"x":1.605,"h":0.354},{"x":1.85,"h":0.354}]},"mark":{"type":"rule","color":"#dd3a43","strokeWidth":4},"encoding":{"y2":{"datum":0}}}
  ]},
 {"width":258,"height":180,"view":{"fill":"#e0f0e4","stroke":null},
  "encoding":{"x":{"field":"x","type":"quantitative","title":null,"scale":{"domain":[-3,3],"nice":false,"zero":false},"axis":{"values":[-3,0.13,3],"labelExpr":"datum.value == -3 ? '\u20133' : datum.value == 3 ? '3' : 'x\u0304'","labelFontStyle":{"condition":{"test":"abs(datum.value) < 2.9","value":"italic"},"value":"normal"},"labelFontSize":{"condition":{"test":"abs(datum.value) < 2.9","value":24},"value":21}}},"y":{"field":"h","type":"quantitative","title":null,"stack":null,"scale":{"domain":[0,1]},"axis":null}},
  "layer":[
   {"data":{"values":[{"x":-2.79,"h":0.839,"t":"Bootstrap distribution"},{"x":-2.79,"h":0.692,"t":"for"},{"x":-2.79,"h":0.544,"t":"Sample 5"}]},"mark":{"type":"text","align":"left","baseline":"alphabetic"},"encoding":{"text":{"field":"t"}}},
   {"data":{"values":[{"x":-0.8,"x2f":-0.68,"h":0.074},{"x":-0.68,"x2f":-0.56,"h":0.1},{"x":-0.56,"x2f":-0.44,"h":0.19},{"x":-0.44,"x2f":-0.32,"h":0.32},{"x":-0.32,"x2f":-0.2,"h":0.56},{"x":-0.2,"x2f":-0.08,"h":0.695},{"x":-0.08,"x2f":0.04,"h":0.745},{"x":0.04,"x2f":0.16,"h":0.745},{"x":0.16,"x2f":0.28,"h":0.69},{"x":0.28,"x2f":0.4,"h":0.6},{"x":0.4,"x2f":0.52,"h":0.35},{"x":0.52,"x2f":0.64,"h":0.16},{"x":0.64,"x2f":0.76,"h":0.072},{"x":0.76,"x2f":0.88,"h":0.048},{"x":0.88,"x2f":1.0,"h":0.024}]},"mark":{"type":"bar","fill":"#d9363e","stroke":"#231f20","strokeWidth":1},"encoding":{"x2":{"field":"x2f"},"y2":{"datum":0}}},
   {"data":{"values":[{"x":0,"h":0.745}]},"mark":{"type":"rule","color":"#231f20","strokeWidth":2.5},"encoding":{"y2":{"datum":0}}},
   {"data":{"values":[{"x":0.13,"h":0.745}]},"mark":{"type":"rule","color":"#231f20","strokeWidth":2.5,"strokeDash":[5,3]},"encoding":{"y2":{"datum":0}}},
   {"data":{"values":[{"x":-1.04,"h":0.011},{"x":-0.88,"h":0.03},{"x":-0.7,"h":0.094},{"x":-0.56,"h":0.17},{"x":-0.43,"h":0.317},{"x":-0.295,"h":0.52},{"x":-0.16,"h":0.67},{"x":-0.027,"h":0.73},{"x":0.08,"h":0.733},{"x":0.197,"h":0.705},{"x":0.33,"h":0.613},{"x":0.465,"h":0.446},{"x":0.6,"h":0.28},{"x":0.733,"h":0.15},{"x":0.868,"h":0.076},{"x":1.05,"h":0.039},{"x":1.31,"h":0.015},{"x":1.67,"h":0.005}]},"mark":{"type":"line","color":"#e41f26","strokeWidth":2.5,"interpolate":"monotone"},"encoding":{}}
  ]},
 {"width":258,"height":180,"view":{"fill":"#e0f0e4","stroke":null},
  "encoding":{"x":{"field":"x","type":"quantitative","title":null,"scale":{"domain":[-3,3],"nice":false,"zero":false},"axis":{"values":[-3,0.25,3],"labelExpr":"datum.value == -3 ? '\u20133' : datum.value == 3 ? '3' : 'x\u0304'","labelFontStyle":{"condition":{"test":"abs(datum.value) < 2.9","value":"italic"},"value":"normal"},"labelFontSize":{"condition":{"test":"abs(datum.value) < 2.9","value":24},"value":21}}},"y":{"field":"h","type":"quantitative","title":null,"stack":null,"scale":{"domain":[0,1]},"axis":null}},
  "layer":[
   {"data":{"values":[{"x":-2.79,"h":0.839,"t":"Bootstrap distribution 6"},{"x":-2.79,"h":0.692,"t":"for"},{"x":-2.79,"h":0.544,"t":"Sample 1"}]},"mark":{"type":"text","align":"left","baseline":"alphabetic"},"encoding":{"text":{"field":"t"}}},
   {"data":{"values":[{"x":-0.8,"x2f":-0.68,"h":0.02},{"x":-0.68,"x2f":-0.56,"h":0.045},{"x":-0.56,"x2f":-0.44,"h":0.1},{"x":-0.44,"x2f":-0.32,"h":0.313},{"x":-0.32,"x2f":-0.2,"h":0.35},{"x":-0.2,"x2f":-0.08,"h":0.44},{"x":-0.08,"x2f":0.04,"h":0.69},{"x":0.04,"x2f":0.16,"h":0.73},{"x":0.16,"x2f":0.28,"h":0.74},{"x":0.28,"x2f":0.4,"h":0.743},{"x":0.4,"x2f":0.52,"h":0.63},{"x":0.52,"x2f":0.64,"h":0.53},{"x":0.64,"x2f":0.76,"h":0.415},{"x":0.76,"x2f":0.88,"h":0.23},{"x":0.88,"x2f":1.0,"h":0.07},{"x":1.0,"x2f":1.12,"h":0.06},{"x":1.12,"x2f":1.24,"h":0.022}]},"mark":{"type":"bar","fill":"#1fb3c9","stroke":"#231f20","strokeWidth":1},"encoding":{"x2":{"field":"x2f"},"y2":{"datum":0}}},
   {"data":{"values":[{"x":0,"h":0.743}]},"mark":{"type":"rule","color":"#231f20","strokeWidth":2.5},"encoding":{"y2":{"datum":0}}},
   {"data":{"values":[{"x":0.27,"h":0.743}]},"mark":{"type":"rule","color":"#231f20","strokeWidth":2.5,"strokeDash":[5,3]},"encoding":{"y2":{"datum":0}}},
   {"data":{"values":[{"x":-1.04,"h":0.005},{"x":-0.79,"h":0.03},{"x":-0.636,"h":0.076},{"x":-0.52,"h":0.187},{"x":-0.41,"h":0.317},{"x":-0.25,"h":0.483},{"x":-0.093,"h":0.613},{"x":0.062,"h":0.705},{"x":0.178,"h":0.733},{"x":0.295,"h":0.737},{"x":0.41,"h":0.705},{"x":0.54,"h":0.594},{"x":0.68,"h":0.428},{"x":0.837,"h":0.224},{"x":0.99,"h":0.094},{"x":1.147,"h":0.03},{"x":1.34,"h":0.005}]},"mark":{"type":"line","color":"#e41f26","strokeWidth":2.5,"interpolate":"monotone"},"encoding":{}}
  ]}
],"spacing":68.5,"bounds":"flush"}
],"spacing":44.5}
]
}
